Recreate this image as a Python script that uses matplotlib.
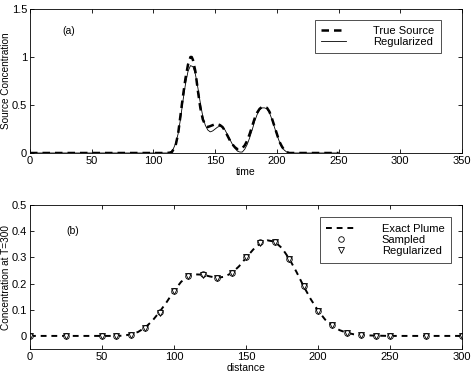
import matplotlib
matplotlib.use("Agg")
import matplotlib.pyplot as plt

plt.rcParams['font.family'] = ['Liberation Sans', 'DejaVu Sans']
plt.rcParams['font.size'] = 8

# Panel (a): source history
t_true = [0, 110, 113, 115, 118, 120, 122, 124, 126, 128, 130, 131, 132, 134, 136, 138, 140, 142, 144,
          146, 148, 150, 152, 154, 156, 158, 160, 162, 164, 166, 168, 170, 172, 174, 176, 178,
          180, 182, 184, 186, 188, 190, 192, 194, 196, 198, 200, 202, 204, 206, 208, 210, 250]
c_true = [0, 0, 0.003, 0.01, 0.08, 0.2, 0.4, 0.6, 0.78, 0.92, 1.0, 1.0, 0.97, 0.85, 0.65, 0.47, 0.35, 0.29, 0.27,
          0.28, 0.29, 0.30, 0.30, 0.29, 0.27, 0.23, 0.18, 0.13, 0.09, 0.06, 0.04, 0.04, 0.05, 0.08, 0.13, 0.20,
          0.28, 0.36, 0.42, 0.46, 0.48, 0.48, 0.47, 0.43, 0.36, 0.28, 0.20, 0.12, 0.07, 0.03, 0.01, 0, 0]

t_reg = [0, 112, 114, 116, 118, 120, 122, 124, 126, 128, 130, 132, 134, 136, 138, 140, 142, 144,
         146, 148, 150, 152, 154, 156, 158, 160, 162, 164, 166, 168, 170, 172, 174, 176, 178,
         180, 182, 184, 186, 188, 190, 192, 194, 196, 198, 200, 202, 204, 206, 208, 210, 250]
c_reg = [0, 0, 0.01, 0.04, 0.10, 0.20, 0.36, 0.55, 0.72, 0.85, 0.91, 0.90, 0.82, 0.68, 0.52, 0.38, 0.29, 0.24,
         0.22, 0.23, 0.25, 0.27, 0.28, 0.27, 0.24, 0.19, 0.14, 0.09, 0.05, 0.02, 0.01, 0.01, 0.04, 0.09, 0.16,
         0.24, 0.33, 0.40, 0.45, 0.47, 0.47, 0.46, 0.42, 0.35, 0.27, 0.19, 0.12, 0.06, 0.03, 0.01, 0, 0]

# Panel (b): plume at T=300
x_exact = [0, 60, 65, 70, 75, 80, 85, 90, 95, 100, 105, 110, 115, 120, 125, 130, 135, 140, 145, 150,
           155, 160, 165, 170, 175, 180, 185, 190, 195, 200, 205, 210, 215, 220, 225, 230, 240, 250, 300]
c_exact = [0, 0, 0.001, 0.006, 0.015, 0.032, 0.058, 0.092, 0.13, 0.172, 0.207, 0.228, 0.235, 0.234, 0.227,
           0.222, 0.226, 0.240, 0.265, 0.298, 0.330, 0.354, 0.365, 0.360, 0.335, 0.295, 0.245, 0.190, 0.140,
           0.097, 0.062, 0.038, 0.022, 0.012, 0.006, 0.003, 0.001, 0, 0]

x_samp = [0, 25, 50, 60, 70, 80, 90, 100, 110, 120, 130, 140, 150, 160, 170, 180, 190, 200, 210, 220,
          230, 240, 250, 275, 300]
c_samp = [0, 0, 0, 0, 0.005, 0.03, 0.09, 0.17, 0.23, 0.235, 0.22, 0.24, 0.30, 0.357, 0.36, 0.295, 0.19,
          0.097, 0.04, 0.012, 0.002, 0, 0, 0, 0]
c_regb = [0, 0, 0, 0, 0.005, 0.03, 0.088, 0.17, 0.23, 0.233, 0.22, 0.24, 0.30, 0.355, 0.358, 0.293, 0.19,
          0.097, 0.04, 0.012, 0.002, 0, 0, 0, 0]

fig = plt.figure(figsize=(4.74, 3.75), dpi=100)
ax1 = fig.add_axes([0.0633, 0.592, 0.9114, 0.384])
ax2 = fig.add_axes([0.0633, 0.0693, 0.9114, 0.384])

for ax in (ax1, ax2):
    ax.tick_params(direction='in', top=True, right=True, length=3, width=0.6, pad=2, labelsize=8)
    for s in ax.spines.values():
        s.set_linewidth(0.6)

ax1.plot(t_true, c_true, 'k--', lw=1.8, dashes=(3, 2), label='True Source')
ax1.plot(t_reg, c_reg, 'k-', lw=0.6, label='Regularized')
ax1.set_xlim(0, 350)
ax1.set_ylim(0, 1.5)
ax1.set_xticks([0, 50, 100, 150, 200, 250, 300, 350])
ax1.set_yticks([0, 0.5, 1, 1.5])
ax1.set_yticklabels(['0', '0.5', '1', '1.5'])
ax1.set_xlabel('time', labelpad=1, fontsize=7.5)
ax1.set_ylabel('Source Concentration', fontsize=7.2)
ax1.yaxis.set_label_coords(-0.045, 0.5)
ax1.text(26, 1.24, '(a)', fontsize=7.5)
leg1 = ax1.legend(loc='upper right', bbox_to_anchor=(0.951, 0.924), frameon=True, fancybox=False,
                  edgecolor='black', handlelength=2.2, handletextpad=2.5, borderpad=0.55,
                  labelspacing=0.05, borderaxespad=0, fontsize=8)
leg1.get_frame().set_linewidth(0.6)

ax2.plot(x_exact, c_exact, 'k--', lw=1.4, dashes=(3, 2.5), label='Exact Plume')
ax2.plot(x_samp, c_samp, 'o', ms=4, mfc='white', mec='black', mew=0.6, label='Sampled')
ax2.plot(x_samp, c_regb, 'v', ms=4, mfc='none', mec='black', mew=0.6, label='Regularized')
ax2.set_xlim(0, 300)
ax2.set_ylim(-0.05, 0.5)
ax2.set_xticks([0, 50, 100, 150, 200, 250, 300])
ax2.set_yticks([0, 0.1, 0.2, 0.3, 0.4, 0.5])
ax2.set_yticklabels(['0', '0.1', '0.2', '0.3', '0.4', '0.5'])
ax2.set_xlabel('distance', labelpad=1, fontsize=7.5)
ax2.set_ylabel('Concentration at T=300', fontsize=7.2)
ax2.yaxis.set_label_coords(-0.045, 0.5)
ax2.text(25, 0.39, '(b)', fontsize=7.5)
leg2 = ax2.legend(loc='upper right', bbox_to_anchor=(0.975, 0.917), frameon=True, fancybox=False,
                  edgecolor='black', handlelength=2.6, handletextpad=2.4, borderpad=0.6,
                  labelspacing=0.1, borderaxespad=0, fontsize=8)
leg2.get_frame().set_linewidth(0.6)

fig.savefig('out.png', dpi=100)
